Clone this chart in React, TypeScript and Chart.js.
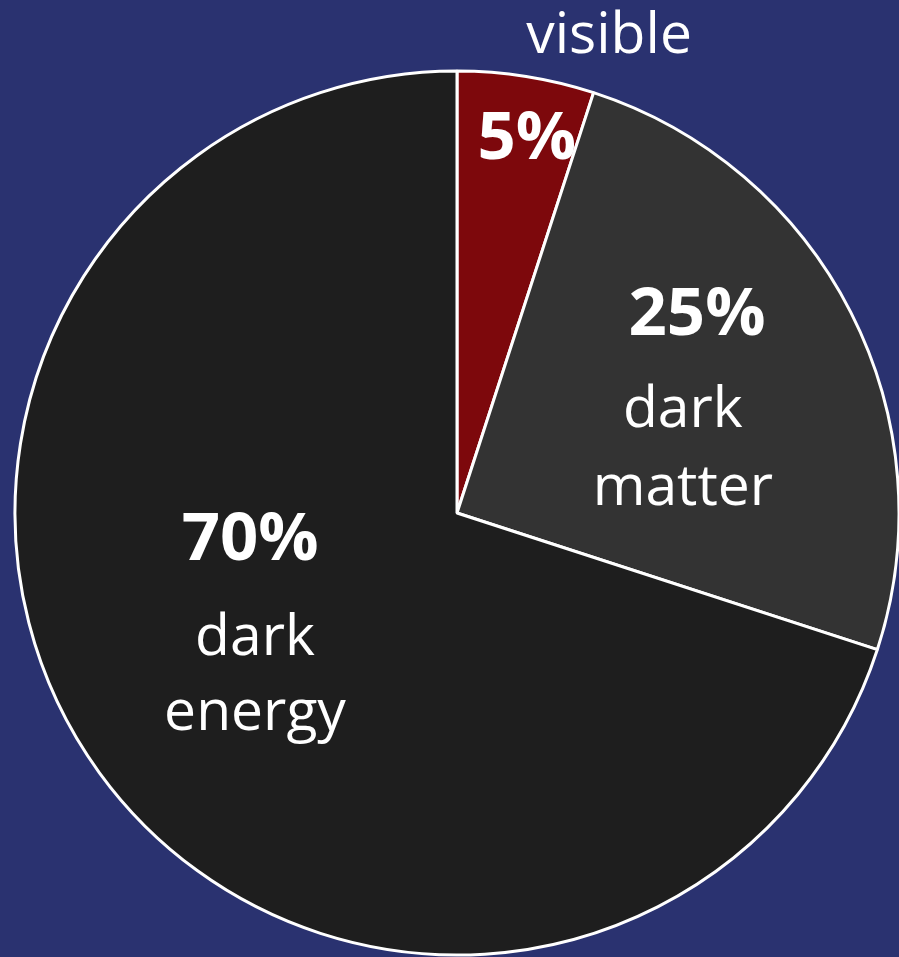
import React, { useEffect, useRef } from "react";
import { Chart, registerables } from "chart.js";

Chart.register(...registerables);

const categories = ["visible", "dark matter", "dark energy"];
const shares = [5, 25, 70];
const percentLabels = ["5%", "25%", "70%"];
const nameLines = [["visible"], ["dark", "matter"], ["dark", "energy"]];
const sliceColors = ["#7d080c", "#333333", "#1e1e1e"];

const BG = "#2a3270";

// label anchors as fractions of the radius, relative to the pie centre (x, y baseline)
const pctAnchors = [
  [0.158, -0.8],
  [0.543, -0.403],
  [-0.468, 0.106],
];
const nameAnchors = [
  [[0.344, -1.04]],
  [[0.511, -0.195], [0.511, -0.018]],
  [[-0.457, 0.321], [-0.457, 0.491]],
];

const labelPlugin = {
  id: "sliceLabels",
  beforeDraw(chart: any) {
    const { ctx, width, height } = chart;
    ctx.save();
    ctx.fillStyle = BG;
    ctx.fillRect(0, 0, width, height);
    ctx.restore();
  },
  afterDraw(chart: any) {
    const { ctx } = chart;
    const meta = chart.getDatasetMeta(0);
    const arc = meta.data[0];
    const cx = arc.x;
    const cy = arc.y;
    const R = arc.outerRadius;
    ctx.save();
    ctx.fillStyle = "#ffffff";
    ctx.textAlign = "center";
    ctx.textBaseline = "alphabetic";
    percentLabels.forEach((t, i) => {
      ctx.font = "bold 67px 'Open Sans'";
      const [fx, fy] = pctAnchors[i];
      ctx.fillText(t, cx + fx * R, cy + fy * R);
    });
    nameLines.forEach((lines, i) => {
      ctx.font = "57px 'Open Sans'";
      lines.forEach((t, j) => {
        const [fx, fy] = nameAnchors[i][j];
        ctx.fillText(t, cx + fx * R, cy + fy * R);
      });
    });
    ctx.restore();
  },
};

export default function App() {
  const ref = useRef<HTMLCanvasElement>(null);
  useEffect(() => {
    document.body.style.margin = "0";
    document.body.style.background = BG;
    const chart = new Chart(ref.current!, {
      type: "pie",
      data: {
        labels: categories,
        datasets: [
          {
            data: shares,
            backgroundColor: sliceColors,
            borderColor: "#ffffff",
            borderWidth: 3,
          },
        ],
      },
      options: {
        responsive: false,
        animation: false,
        devicePixelRatio: 1,
        radius: 442,
        layout: { padding: { left: 15, right: 0, top: 69, bottom: 0 } },
        plugins: {
          legend: { display: false },
          tooltip: { enabled: false },
        },
      },
      plugins: [labelPlugin],
    });
    return () => chart.destroy();
  }, []);
  return <canvas ref={ref} width={899} height={957} style={{ display: "block" }} />;
}
